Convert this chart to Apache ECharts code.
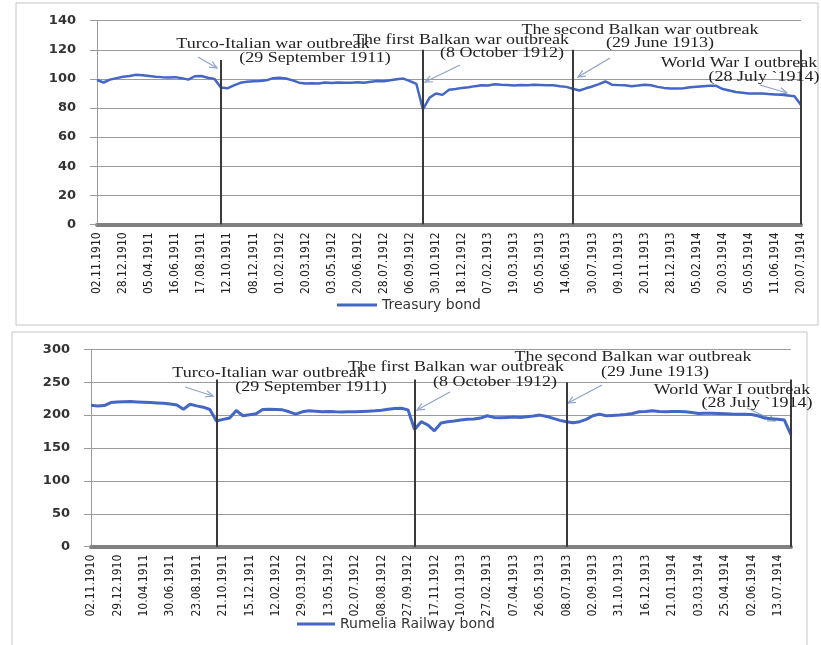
<!DOCTYPE html>
<html><head><meta charset="utf-8">
<script src="https://cdn.jsdelivr.net/npm/echarts@6/dist/echarts.min.js"></script>
<style>html,body{margin:0;padding:0;background:#fff}#c{width:821px;height:645px}</style>
</head><body><div id="c"></div>
<script>
// ---- data ----
const STEP = 4; // data points between two tick labels
const treasuryTicks = ['02.11.1910','28.12.1910','05.04.1911','16.06.1911','17.08.1911','12.10.1911','08.12.1911','01.02.1912','20.03.1912','03.05.1912','20.06.1912','28.07.1912','06.09.1912','30.10.1912','18.12.1912','07.02.1913','19.03.1913','05.05.1913','14.06.1913','30.07.1913','09.10.1913','20.11.1913','28.12.1913','05.02.1914','20.03.1914','05.05.1914','11.06.1914','20.07.1914'];
const rumeliaTicks = ['02.11.1910','29.12.1910','10.04.1911','30.06.1911','23.08.1911','21.10.1911','15.12.1911','12.02.1912','29.03.1912','13.05.1912','02.07.1912','08.08.1912','27.09.1912','17.11.1912','10.01.1913','27.02.1913','07.04.1913','26.05.1913','08.07.1913','02.09.1913','31.10.1913','16.12.1913','21.01.1914','03.03.1914','25.04.1914','02.06.1914','13.07.1914'];
const treasuryValues = [99.2,97.5,99.5,100.5,101.5,102,102.8,102.5,102,101.5,101.2,101,101.2,100.5,99.5,101.8,102,100.8,100,94,
  93.5,95.5,97.3,98,98.4,98.6,99,100.5,100.8,100.3,99,97.4,96.8,97,96.8,97.5,97.2,97.5,97.4,97.4,
  97.6,97.3,98,98.6,98.4,99,99.8,100.2,98.5,96.5,79,87,90,89,92.5,93,93.8,94.2,95,95.6,
  95.5,96.3,96,95.8,95.4,95.8,95.6,96,95.8,95.6,95.6,95,94.5,93.2,92,93.5,94.8,96.4,98.2,96,
  95.7,95.6,95,95.4,96,95.6,94.5,93.8,93.4,93.4,93.6,94.2,94.6,95,95.3,95.2,93,92,91,90.5,
  90,90,90,89.6,89.3,89,88.6,88,82];
const rumeliaValues = [215,214,214.5,219,220,220.4,220.5,220,219.5,219,218.5,218,217,215.5,209,216.5,214,212,208.5,191,
  193.5,195.5,207,199,200.5,202,208.5,209,208.5,208,205,201.5,205,206.5,206,205,205.5,205,204.8,205.2,
  205,205.5,206,206.5,207.5,209,210,210.5,208,178,190,185,176,188,190,191,192.5,193.6,194,195.5,
  199,196.5,196,196.5,197,196.5,197.5,198.5,200,198,195,192,190,188.5,190,193.6,199,201.5,199,199.5,
  200,201,202.5,205,205.5,206.5,205.5,205,205.5,205.5,205,204,202.5,202.7,202.8,202.5,202,201.5,201.2,201.2,
  201,199,195.5,194.5,193.6,192.5,170];
const treasuryEvents = [19, 50, 73, 108];
const rumeliaEvents = [19, 49, 72, 106];
const treasuryEventTop = [113, 120, 120, 120];
const rumeliaEventTop = [254, 254, 250, 254];
const eventTitles = ['Turco-Italian war outbreak','The first Balkan war outbreak','The second Balkan war outbreak','World War I outbreak'];
const eventDates = ['(29 September 1911)','(8 October 1912)','(29 June 1913)','(28 July `1914)'];

// ---- layout / style ----
const BLUE = '#4466c4';
const GRID = '#9a9a9a';
const xFont = "'Liberation Sans Narrow','DejaVu Sans Condensed','Liberation Sans',sans-serif";
const yFont = "'DejaVu Sans',sans-serif";
const serif = "'Liberation Serif','DejaVu Serif',serif";

function cats(ticks, n) {
  const out = [];
  for (let i = 0; i < n; i++) {
    const t = Math.floor(i / STEP);
    out.push(i % STEP === 0 ? ticks[t] : ticks[t] + '#' + (i % STEP));
  }
  return out;
}
function eventLines(idx, tops) {
  return idx.map((e, k) => [{coord: [e, tops[k]]}, {coord: [e, 0]}]);
}
function xAxis(gi, ticks, n) {
  return {
    type: 'category', gridIndex: gi, boundaryGap: false, data: cats(ticks, n),
    axisLine: {lineStyle: {color: '#808080', width: 4}},
    axisTick: {show: false},
    axisLabel: {interval: STEP - 1, rotate: 90, margin: 8, fontFamily: xFont, fontSize: 12, color: '#222',
      formatter: v => v.indexOf('#') >= 0 ? '' : v},
    splitLine: {show: false}
  };
}
function yAxis(gi, max, interval, margin) {
  return {
    type: 'value', gridIndex: gi, min: 0, max: max, interval: interval,
    axisLine: {show: true, lineStyle: {color: GRID, width: 1}},
    axisTick: {show: true, length: 7, lineStyle: {color: GRID}},
    axisLabel: {margin: margin, fontFamily: yFont, fontWeight: 'bold', fontSize: 13, color: '#333'},
    splitLine: {lineStyle: {color: GRID, width: 1}}
  };
}
function arrow(x1, y1, x2, y2) {
  const a = Math.atan2(y2 - y1, x2 - x1), L = 8, w = 0.42;
  const st = {stroke: '#8da3cc', lineWidth: 1.2, fill: null};
  return {type: 'group', z: 50, children: [
    {type: 'line', shape: {x1, y1, x2, y2}, style: st},
    {type: 'polyline', shape: {points: [[x2 - L * Math.cos(a - w), y2 - L * Math.sin(a - w)], [x2, y2], [x2 - L * Math.cos(a + w), y2 - L * Math.sin(a + w)]]}, style: st}
  ]};
}
function txt(s, x, y) {
  return {type: 'text', x: x, y: y, scaleX: 1.2, z: 60,
    style: {text: s, font: '15px ' + serif, fill: '#222', textAlign: 'center', textVerticalAlign: 'middle'}};
}
// annotation placement: [title cx, title cy, date cx, date cy, arrow x1,y1,x2,y2]
const topAnn = [[273,44,315,58,198,57,217,68],[461,40,502,53,460,65,425,82],[640,30,660,43,610,58,578,77],[739,63,764,77,760,85,787,93]];
const botAnn = [[269,373,311,387,185,387,213,396],[456,367,495,382,450,392,417,410],[633,357,655,372,602,385,568,403],[732,390,757,403,747,408,775,421]];
const graphics = [
  {type: 'rect', shape: {x: 16, y: 3, width: 802, height: 322}, style: {fill: null, stroke: '#c4c4c4', lineWidth: 1}, z: 0},
  {type: 'rect', shape: {x: 12, y: 332, width: 795, height: 330}, style: {fill: null, stroke: '#c4c4c4', lineWidth: 1}, z: 0}
];
[topAnn, botAnn].forEach(ann => ann.forEach((a, k) => {
  graphics.push(txt(eventTitles[k], a[0], a[1]));
  graphics.push(txt(eventDates[k], a[2], a[3]));
  graphics.push(arrow(a[4], a[5], a[6], a[7]));
}));

const chart = echarts.init(document.getElementById('c'), null, {renderer: 'canvas'});
chart.setOption({
  animation: false,
  backgroundColor: '#fff',
  grid: [
    {left: 97, top: 20.7, width: 704, height: 203.6},
    {left: 91, top: 349.3, width: 700, height: 197.4}
  ],
  xAxis: [xAxis(0, treasuryTicks, treasuryValues.length), xAxis(1, rumeliaTicks, rumeliaValues.length)],
  yAxis: [yAxis(0, 140, 20, 21), yAxis(1, 300, 50, 21)],
  legend: [
    {data: ['Treasury bond'], left: 337, top: 298, padding: 0, itemWidth: 40, itemHeight: 3, icon: 'rect', itemGap: 4,
      textStyle: {fontFamily: yFont, fontSize: 14, color: '#333'}},
    {data: ['Rumelia Railway bond'], left: 297, top: 617, padding: 0, itemWidth: 38, itemHeight: 3, icon: 'rect',
      textStyle: {fontFamily: yFont, fontSize: 14, color: '#333'}}
  ],
  series: [
    {name: 'Treasury bond', type: 'line', xAxisIndex: 0, yAxisIndex: 0, data: treasuryValues,
      showSymbol: false, symbol: 'none', lineStyle: {color: BLUE, width: 2.5}, itemStyle: {color: BLUE},
      markLine: {silent: true, symbol: 'none', label: {show: false}, lineStyle: {color: '#3a3a3a', width: 2, type: 'solid'},
        data: eventLines(treasuryEvents, treasuryEventTop)}},
    {name: 'Rumelia Railway bond', type: 'line', xAxisIndex: 1, yAxisIndex: 1, data: rumeliaValues,
      showSymbol: false, symbol: 'none', lineStyle: {color: BLUE, width: 3}, itemStyle: {color: BLUE},
      markLine: {silent: true, symbol: 'none', label: {show: false}, lineStyle: {color: '#3a3a3a', width: 2, type: 'solid'},
        data: eventLines(rumeliaEvents, rumeliaEventTop)}}
  ],
  graphic: graphics
});
</script></body></html>
